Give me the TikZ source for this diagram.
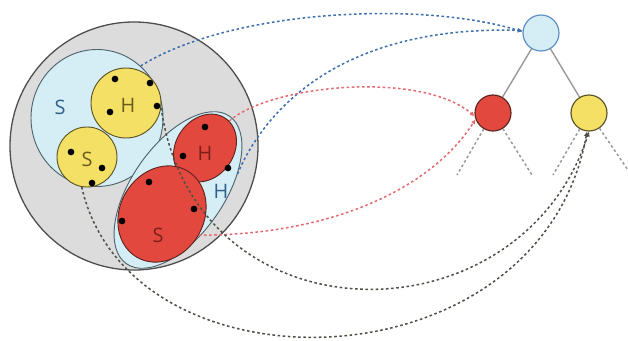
\documentclass[tikz,border=0pt]{standalone}
\usepackage{fontspec}
\setsansfont{Open Sans}
\usepackage{tikz}
\usetikzlibrary{shapes.geometric, arrows.meta}
\definecolor{WorldGray}{HTML}{DCDCDC}
\definecolor{WorldEdge}{HTML}{4D4D4D}
\definecolor{SetBlue}  {HTML}{D5EEF5}
\definecolor{SetEdge}  {HTML}{50646E}
\definecolor{Yel}      {HTML}{F5E066}
\definecolor{YelEdge}  {HTML}{5B5428}
\definecolor{Red}      {HTML}{E2483D}
\definecolor{RedEdge}  {HTML}{5E2420}
\definecolor{TopEdge}  {HTML}{5B8EC4}
\definecolor{LinkBlue} {HTML}{3F6FAE}
\definecolor{LinkRed}  {HTML}{E46A70}
\definecolor{LinkGray} {HTML}{505048}
\definecolor{StubGray} {HTML}{9A9A9A}
\definecolor{LblBlue}  {HTML}{2F5F8A}
\definecolor{LblOlive} {HTML}{6A5D1C}
\definecolor{LblRed}   {HTML}{7B1F1C}

\begin{document}
\begin{tikzpicture}[x=0.3mm, y=-0.3mm,
    blob/.style={inner sep=0pt, line width=0.8pt},
    lbl/.style={font=\sffamily\fontsize{17}{19}\selectfont},
    tnode/.style={circle, minimum size=10.8mm, inner sep=0pt, line width=1pt},
    link/.style={line width=1.3pt, dash pattern=on 2.2pt off 2.2pt,
                 -{Latex[length=4pt,width=4pt]}},
    stub/.style={draw=StubGray, line width=1.3pt, dash pattern=on 2.2pt off 2.2pt},
    treeedge/.style={draw=StubGray, line width=1.2pt}]
  \useasboundingbox (0,0) rectangle (628,340);
  % ── outer world circle ───────────────────────────────────────────────────
  \node[blob, circle, draw=WorldEdge, fill=WorldGray, minimum size=74.4mm, line width=1.1pt] (world) at (134,146) {};
  % ── the two light-blue sets ──────────────────────────────────────────────
  \node[blob, ellipse, draw=SetEdge, fill=SetBlue, minimum width=39.6mm, minimum height=41.1mm] (sS) at (97,118) {};
  \node[blob, ellipse, draw=SetEdge, fill=SetBlue, minimum width=54mm, minimum height=27.6mm, rotate=55] (hH) at (178,190) {};
  % ── yellow and red members ───────────────────────────────────────────────
  \node[blob, circle, draw=YelEdge, fill=Yel, minimum size=21mm] (yH) at (126,103) {};
  \node[blob, circle, draw=YelEdge, fill=Yel, minimum size=18mm] (yS) at (87,157) {};
  \node[blob, ellipse, draw=RedEdge, fill=Red, minimum width=21.6mm, minimum height=17.4mm, rotate=55] (rH) at (205,148) {};
  \node[blob, ellipse, draw=RedEdge, fill=Red, minimum width=30mm, minimum height=25.2mm, rotate=60] (rS) at (162,214) {};
  % ── points inside the members ────────────────────────────────────────────
  \foreach \p in {(115,79), (150,83), (157,106), (110,112),
                  (71,152), (102,168), (92,183),
                  (205,127), (183,156), (228,168),
                  (149,182), (194,209), (122,221)} {
    \fill[black] \p circle (1mm);
  }
  % ── labels ───────────────────────────────────────────────────────────────
  \node[lbl, text=LblBlue]  (lsS) at (60,107)  {S};
  \node[lbl, text=LblOlive] (lyH) at (128,105) {H};
  \node[lbl, text=LblOlive] (lyS) at (87,159)  {S};
  \node[lbl, text=LblRed]   (lrH) at (205,153) {H};
  \node[lbl, text=LblBlue]  (lhH) at (221,191) {H};
  \node[lbl, text=LblRed]   (lrS) at (158,235) {S};
  % ── tree ─────────────────────────────────────────────────────────────────
  \node[tnode, draw=TopEdge, fill=SetBlue] (top) at (541,33) {};
  \node[tnode, draw=RedEdge, fill=Red]     (rnode) at (493,113) {};
  \node[tnode, draw=YelEdge, fill=Yel]     (ynode) at (589,113) {};
  \draw[treeedge] (top) -- (rnode);
  \draw[treeedge] (top) -- (ynode);
  \coordinate (rl) at (457,175);
  \coordinate (rr) at (532,175);
  \coordinate (yl) at (553,175);
  \coordinate (yr) at (628,170);
  \draw[stub] (rnode) -- (rl);
  \draw[stub] (rnode) -- (rr);
  \draw[stub] (ynode) -- (yl);
  \draw[stub] (ynode) -- (yr);
  % ── links from sets to tree nodes ────────────────────────────────────────
  \draw[link, draw=LinkBlue] (sS.50) .. controls (230,10) and (420,0) .. (top.176);
  \draw[link, draw=LinkBlue] (hH.-40) .. controls (260,120) and (330,25) .. (top.172);
  \draw[link, draw=LinkRed] (rH.-7) .. controls (270,85) and (420,70) .. (rnode.190);
  \draw[link, draw=LinkRed] (rS.-90) .. controls (330,235) and (430,190) .. (rnode.200);
  \draw[link, draw=LinkGray] (yH.-8) .. controls (195,345) and (520,345) .. (ynode.-90);
  \draw[link, draw=LinkGray] (yS.-100) .. controls (130,400) and (540,390) .. (ynode.-96);
\end{tikzpicture}
\end{document}
